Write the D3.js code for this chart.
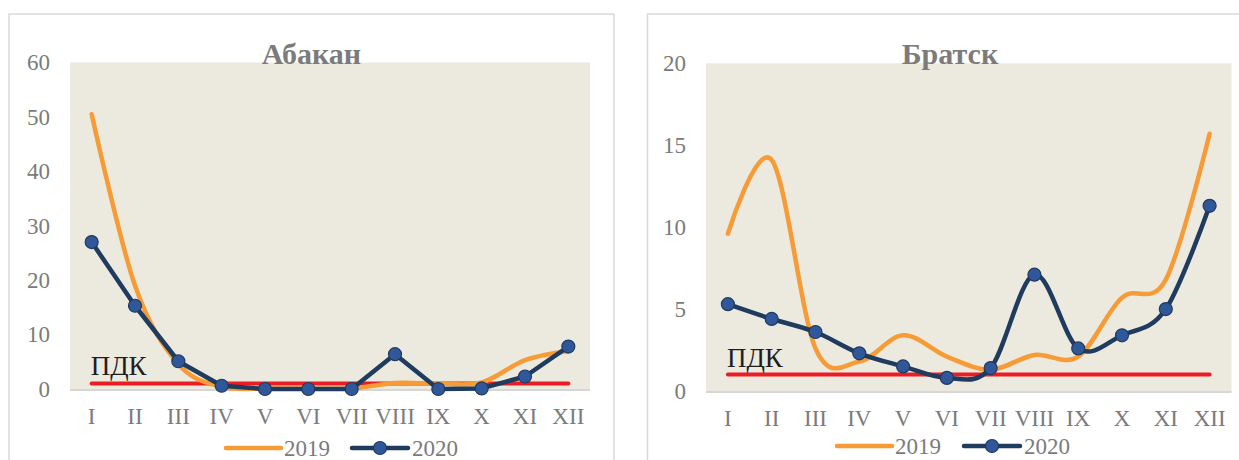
<!DOCTYPE html>
<html>
<head>
<meta charset="utf-8">
<script src="https://cdn.jsdelivr.net/npm/d3@7"></script>
<style>
  html, body { margin: 0; padding: 0; background: #ffffff; }
  svg { display: block; }
  text { font-family: "Liberation Serif", "Times New Roman", serif; }
</style>
</head>
<body>
<svg id="chart" width="1239" height="460"></svg>
<script>
// Monthly concentrations (multiples of ПДК) for two cities, 2019 vs 2020
const months = ["I", "II", "III", "IV", "V", "VI", "VII", "VIII", "IX", "X", "XI", "XII"];

const abakan2019 = [50.5, 19, 4.6, 0.4, 0.1, 0.1, 0.1, 1.1, 1.0, 1.2, 5.3, 7.0];
const abakan2020 = [27.0, 15.3, 5.1, 0.6, 0.0, 0.0, 0.0, 6.4, 0.0, 0.1, 2.3, 7.8];

const bratsk2019 = [9.6, 14.1, 2.6, 1.8, 3.4, 2.1, 1.3, 2.2, 2.1, 5.7, 6.8, 15.7];
const bratsk2020 = [5.3, 4.4, 3.6, 2.3, 1.5, 0.8, 1.4, 7.1, 2.6, 3.4, 5.0, 11.3];

const abakanTicks = [0, 10, 20, 30, 40, 50, 60];
const bratskTicks = [0, 5, 10, 15, 20];

const pdkValue = 1;
const pdkLabel = "ПДК";
const seriesNames = ["2019", "2020"];

const COLORS = {
  y2019: "#f79b37",
  y2020: "#1f3b5e",
  marker: "#30579a",
  pdk: "#ec1c24",
  plotBg: "#ece9df",
  border: "#d9d9d9",
  axisText: "#7b7b7b",
  title: "#7b7b7b",
  pdkText: "#1e1e1e"
};

const svg = d3.select("#chart");

function drawPanel(cfg) {
  const g = svg.append("g");

  // outer chart frame
  g.append("rect")
    .attr("x", cfg.box.x).attr("y", cfg.box.y)
    .attr("width", cfg.box.w).attr("height", cfg.box.h)
    .attr("fill", "#ffffff")
    .attr("stroke", COLORS.border)
    .attr("stroke-width", 1.5);

  const x = d3.scaleBand()
    .domain(months)
    .range([cfg.plot.left, cfg.plot.right]);
  const cx = m => x(m) + x.bandwidth() / 2;

  const y = d3.scaleLinear()
    .domain([0, d3.max(cfg.ticks)])
    .range([cfg.plot.bottom, cfg.plot.top]);

  // plot area
  g.append("rect")
    .attr("x", cfg.plot.left).attr("y", cfg.plot.top)
    .attr("width", cfg.plot.right - cfg.plot.left)
    .attr("height", cfg.plot.bottom - cfg.plot.top)
    .attr("fill", COLORS.plotBg);

  // baseline of the category axis
  g.append("line")
    .attr("x1", cfg.plot.left).attr("x2", cfg.plot.right)
    .attr("y1", y(0) + 1).attr("y2", y(0) + 1)
    .attr("stroke", "#d6d6d6").attr("stroke-width", 2);

  // value axis
  const yAxis = d3.axisLeft(y).tickValues(cfg.ticks).tickSize(0).tickPadding(20);
  const yg = g.append("g").attr("transform", `translate(${cfg.plot.left},0)`).call(yAxis);
  yg.select(".domain").remove();
  yg.selectAll("text")
    .attr("fill", COLORS.axisText)
    .style("font-size", "23px")
    .style("font-family", "'Liberation Serif', 'Times New Roman', serif");

  // category axis
  const xAxis = d3.axisBottom(x).tickSize(0).tickPadding(19);
  const xg = g.append("g").attr("transform", `translate(0,${y(0)})`).call(xAxis);
  xg.select(".domain").remove();
  xg.selectAll("text")
    .attr("fill", COLORS.axisText)
    .style("font-size", "23px")
    .style("font-family", "'Liberation Serif', 'Times New Roman', serif");

  // title
  g.append("text")
    .attr("x", cfg.box.x + cfg.box.w / 2)
    .attr("y", cfg.titleY)
    .attr("text-anchor", "middle")
    .attr("fill", COLORS.title)
    .style("font-size", "30px")
    .style("font-weight", "bold")
    .text(cfg.title);

  // limit line (ПДК)
  g.append("line")
    .attr("x1", cx(months[0])).attr("x2", cx(months[months.length - 1]))
    .attr("y1", y(pdkValue)).attr("y2", y(pdkValue))
    .attr("stroke", COLORS.pdk)
    .attr("stroke-width", 4)
    .attr("stroke-linecap", "round");

  g.append("text")
    .attr("x", cx(months[0]) - 1)
    .attr("y", y(pdkValue) - cfg.pdkGap)
    .attr("fill", COLORS.pdkText)
    .style("font-size", "27px")
    .text(pdkLabel);

  const smooth = d3.curveCatmullRom.alpha(0);

  // 2019 series (smoothed, no markers)
  const line19 = d3.line()
    .x((d, i) => cx(months[i]))
    .y(d => y(d))
    .curve(smooth);
  g.append("path")
    .datum(cfg.s2019)
    .attr("d", line19)
    .attr("fill", "none")
    .attr("stroke", COLORS.y2019)
    .attr("stroke-width", 4.5)
    .attr("stroke-linecap", "round")
    .attr("stroke-linejoin", "round");

  // 2020 series with markers
  const line20 = d3.line()
    .x((d, i) => cx(months[i]))
    .y(d => y(d))
    .curve(cfg.smooth2020 ? smooth : d3.curveLinear);
  g.append("path")
    .datum(cfg.s2020)
    .attr("d", line20)
    .attr("fill", "none")
    .attr("stroke", COLORS.y2020)
    .attr("stroke-width", 4.5)
    .attr("stroke-linecap", "round")
    .attr("stroke-linejoin", "round");

  g.selectAll("circle.pt")
    .data(cfg.s2020)
    .join("circle")
    .attr("class", "pt")
    .attr("cx", (d, i) => cx(months[i]))
    .attr("cy", d => y(d))
    .attr("r", 6.5)
    .attr("fill", COLORS.marker)
    .attr("stroke", COLORS.y2020)
    .attr("stroke-width", 1.2);

  // legend
  const ly = cfg.legend.y;
  const lg = g.append("g");
  const L = cfg.legend;
  lg.append("line")
    .attr("x1", L.x1).attr("x2", L.x1 + 55)
    .attr("y1", ly).attr("y2", ly)
    .attr("stroke", COLORS.y2019).attr("stroke-width", 4.5)
    .attr("stroke-linecap", "round");
  lg.append("text")
    .attr("x", L.x1 + 58).attr("y", ly + 8)
    .attr("fill", COLORS.axisText)
    .style("font-size", "23px")
    .text(seriesNames[0]);
  lg.append("line")
    .attr("x1", L.x2).attr("x2", L.x2 + 56)
    .attr("y1", ly).attr("y2", ly)
    .attr("stroke", COLORS.y2020).attr("stroke-width", 4.5)
    .attr("stroke-linecap", "round");
  lg.append("circle")
    .attr("cx", L.x2 + 28).attr("cy", ly)
    .attr("r", 6.5)
    .attr("fill", COLORS.marker)
    .attr("stroke", COLORS.y2020)
    .attr("stroke-width", 1.2);
  lg.append("text")
    .attr("x", L.x2 + 60).attr("y", ly + 8)
    .attr("fill", COLORS.axisText)
    .style("font-size", "23px")
    .text(seriesNames[1]);
}

drawPanel({
  title: "Абакан",
  box: { x: 9, y: 14, w: 605, h: 470 },
  plot: { left: 70, right: 590, top: 62.5, bottom: 389 },
  ticks: abakanTicks,
  s2019: abakan2019,
  s2020: abakan2020,
  smooth2020: false,
  titleY: 64,
  pdkGap: 9,
  legend: { y: 448, x1: 226, x2: 352 }
});

drawPanel({
  title: "Братск",
  box: { x: 647.5, y: 14, w: 605, h: 470 },
  plot: { left: 706, right: 1231.5, top: 63.3, bottom: 391 },
  ticks: bratskTicks,
  s2019: bratsk2019,
  s2020: bratsk2020,
  smooth2020: true,
  titleY: 64,
  pdkGap: 8,
  legend: { y: 446, x1: 837, x2: 964 }
});
</script>
</body>
</html>
